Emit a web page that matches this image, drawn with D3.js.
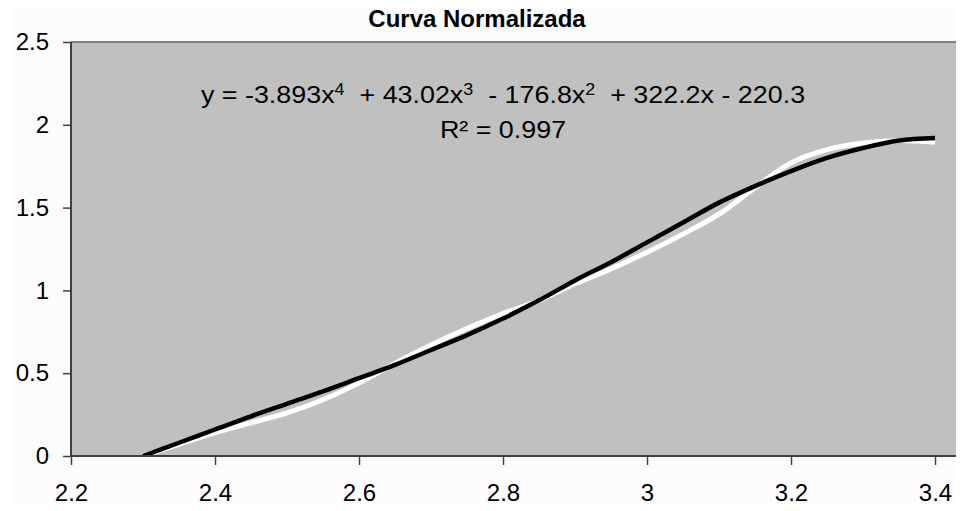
<!DOCTYPE html>
<html><head><meta charset="utf-8">
<script src="https://cdn.jsdelivr.net/npm/d3@7"></script>
<style>html,body{margin:0;padding:0;background:#fff;}svg{display:block;}</style>
</head><body>
<script>
// ---- data ----
const title = "Curva Normalizada";
const xTicks = [2.2, 2.4, 2.6, 2.8, 3, 3.2, 3.4];
const yTicks = [0, 0.5, 1, 1.5, 2, 2.5];
// measured series (white line)
const dataX = [2.30, 2.35, 2.40, 2.45, 2.50, 2.55, 2.60, 2.65, 2.70, 2.75, 2.80, 2.85, 2.90, 2.95, 3.00, 3.05, 3.10, 3.15, 3.20, 3.25, 3.30, 3.35, 3.40];
const dataY = [0.00, 0.07, 0.14, 0.20, 0.26, 0.34, 0.44, 0.56, 0.67, 0.77, 0.86, 0.94, 1.04, 1.13, 1.23, 1.34, 1.46, 1.62, 1.77, 1.85, 1.89, 1.905, 1.895];
// polynomial trendline (black line), as drawn
const trendX = [2.30, 2.35, 2.40, 2.45, 2.50, 2.55, 2.60, 2.65, 2.70, 2.75, 2.80, 2.85, 2.90, 2.95, 3.00, 3.05, 3.10, 3.15, 3.20, 3.25, 3.30, 3.35, 3.40];
const trendY = [0.00, 0.08, 0.16, 0.24, 0.315, 0.39, 0.47, 0.55, 0.64, 0.73, 0.83, 0.94, 1.06, 1.17, 1.29, 1.41, 1.53, 1.63, 1.72, 1.80, 1.86, 1.905, 1.92];
const equation = ["y = -3.893x", "4", "  + 43.02x", "3", "  - 176.8x", "2", "  + 322.2x - 220.3"];
const r2Label = "R² = 0.997";

// ---- layout ----
const W = 960, H = 511;
const L = 71, R = 956, T = 42, B = 456;
const svg = d3.select("body").append("svg").attr("width", W).attr("height", H)
  .style("font-family", "'Liberation Sans', Arial, sans-serif");

svg.append("defs").append("clipPath").attr("id", "chartClip")
  .append("rect").attr("x", 0).attr("y", 0).attr("width", 956).attr("height", 503);
svg.append("defs").append("clipPath").attr("id", "plotClip")
  .append("rect").attr("x", L).attr("y", T).attr("width", R - L).attr("height", B - T);

const g = svg.append("g").attr("clip-path", "url(#chartClip)");
g.append("rect").attr("x", 10).attr("y", 9).attr("width", 946).attr("height", 494).attr("fill", "#fcfcfc");

const x = d3.scaleLinear().domain([2.2, 2.2 + (R - L) / 720]).range([L, R]);
const y = d3.scaleLinear().domain([0, 2.5]).range([B, T]);

// plot area
g.append("rect").attr("x", L).attr("y", T).attr("width", R - L).attr("height", B - T)
  .attr("fill", "#c0c0c0");
g.append("line").attr("x1", L).attr("x2", R).attr("y1", T).attr("y2", T)
  .attr("stroke", "#808080").attr("stroke-width", 2);

// lines
const line = d3.line().x(d => x(d[0])).y(d => y(d[1])).curve(d3.curveCatmullRom);
const pg = g.append("g").attr("clip-path", "url(#plotClip)");
pg.append("path").datum(dataX.map((v, i) => [v, dataY[i]]))
  .attr("d", line).attr("fill", "none").attr("stroke", "#ffffff").attr("stroke-width", 5);
pg.append("path").datum(trendX.map((v, i) => [v, trendY[i]]))
  .attr("d", line).attr("fill", "none").attr("stroke", "#000000").attr("stroke-width", 4.5);

// axes
const yAxis = d3.axisLeft(y).tickValues(yTicks).tickSize(8).tickPadding(14)
  .tickFormat(d3.format("~g"));
const ya = g.append("g").attr("transform", `translate(${L},0)`).call(yAxis);
const xAxis = d3.axisBottom(x).tickValues(xTicks).tickSize(9).tickPadding(19)
  .tickFormat(d3.format("~g"));
const xa = g.append("g").attr("transform", `translate(0,${B})`).call(xAxis);
[ya, xa].forEach(a => {
  a.select(".domain").attr("stroke", "#404040").attr("stroke-width", 2);
  a.selectAll(".tick line").attr("stroke", "#404040").attr("stroke-width", 1.5);
  a.selectAll(".tick text").attr("font-size", 24).attr("fill", "#000")
    .style("font-family", "'Liberation Sans', Arial, sans-serif");
});
ya.select(".domain").attr("d", `M0,${T}V${B}`);
xa.select(".domain").attr("d", `M${L},0H${R}`);

// title
g.append("text").attr("x", 477).attr("y", 27).attr("text-anchor", "middle")
  .attr("font-size", 24).attr("font-weight", "bold").text(title);

// equation
const eq = g.append("text").attr("transform", "translate(503,103) scale(1.12,1)")
  .attr("text-anchor", "middle").attr("xml:space", "preserve")
  .style("white-space", "pre")
  .attr("font-size", 24).attr("fill", "#000");
equation.forEach((s, i) => {
  const t = eq.append("tspan").text(s);
  if (i % 2 === 1) t.attr("baseline-shift", "super").attr("font-size", 16);
});
g.append("text").attr("transform", "translate(503,138) scale(1.12,1)").attr("text-anchor", "middle")
  .attr("font-size", 24).attr("fill", "#000").text(r2Label);
</script>
</body></html>
